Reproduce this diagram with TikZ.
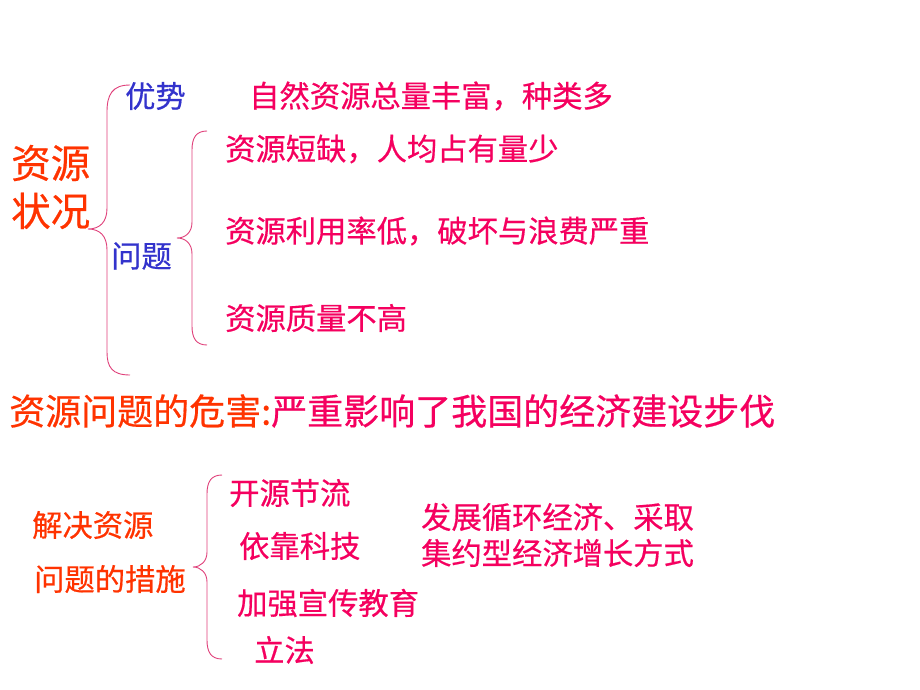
\documentclass[tikz,border=0pt]{standalone}
\usepackage{fontspec}
\setmainfont[FakeBold=0.5]{Noto Sans CJK SC}
\definecolor{pinkc}{HTML}{F5005F}
\definecolor{orangec}{HTML}{FF3300}
\definecolor{bluec}{HTML}{3333CC}
\definecolor{bracec}{HTML}{E0407A}
\tikzset{
  txt/.style={anchor=west, inner sep=0pt, text=pinkc, font=\fontsize{30.3}{34}\selectfont},
  big/.style={txt, text=orangec, font=\fontsize{39.5}{50}\selectfont, align=left},
  sub/.style={txt, text=bluec},
  head/.style={txt, text=orangec},
  brace/.style={draw=bracec, line width=0.9pt}
}
\begin{document}
\begin{tikzpicture}[x=1pt,y=-1pt]
\useasboundingbox[fill=white] (0,0) rectangle (920,690);
% top section
\node[big] (zy) at (11,187) {资源\\[-2pt]状况};
\node[sub] (ys) at (125,96) {优势};
\node[sub] (wt) at (111,256) {问题};
\node[txt] (a1) at (249,96) {自然资源总量丰富，种类多};
\node[txt] (p1) at (225,149) {资源短缺，人均占有量少};
\node[txt] (p2) at (225,231) {资源利用率低，破坏与浪费严重};
\node[txt] (p3) at (225,318) {资源质量不高};
% harm line
\node[txt, font=\fontsize{36}{40}\selectfont] (harm) at (9,411) {\textcolor{orangec}{资源问题的危害:}严重影响了我国的经济建设步伐};
% bottom section
\node[head] (m1) at (32,525) {解决资源};
\node[head] (m2) at (34,579) {问题的措施};
\node[txt] (s1) at (229,493) {开源节流};
\node[txt] (s2) at (239,546) {依靠科技};
\node[txt] (s3) at (237,603) {加强宣传教育};
\node[txt] (s4) at (254,650) {立法};
\node[txt] (r1) at (421,517) {发展循环经济、采取};
\node[txt] (r2) at (421,553) {集约型经济增长方式};
% braces
\coordinate (b1t) at (130,85); \coordinate (b1m) at (88,229); \coordinate (b1b) at (130,375);
\draw[brace] (b1t) .. controls (112,85) and (107,95) .. (107,112) -- (107,208)
  .. controls (107,222) and (100,229) .. (b1m)
  .. controls (100,229) and (107,236) .. (107,250) -- (107,352)
  .. controls (107,367) and (112,375) .. (b1b);
\coordinate (b2t) at (207,131); \coordinate (b2m) at (177,238); \coordinate (b2b) at (207,345);
\draw[brace] (b2t) .. controls (196,131) and (192,138) .. (192,150) -- (192,222)
  .. controls (192,232) and (186,238) .. (b2m)
  .. controls (186,238) and (192,244) .. (192,254) -- (192,326)
  .. controls (192,338) and (196,345) .. (b2b);
\coordinate (b3t) at (222,475); \coordinate (b3m) at (193,567); \coordinate (b3b) at (222,659);
\draw[brace] (b3t) .. controls (211,475) and (207,482) .. (207,494) -- (207,552)
  .. controls (207,561) and (201,567) .. (b3m)
  .. controls (201,567) and (207,573) .. (207,582) -- (207,640)
  .. controls (207,652) and (211,659) .. (b3b);
\end{tikzpicture}
\end{document}
